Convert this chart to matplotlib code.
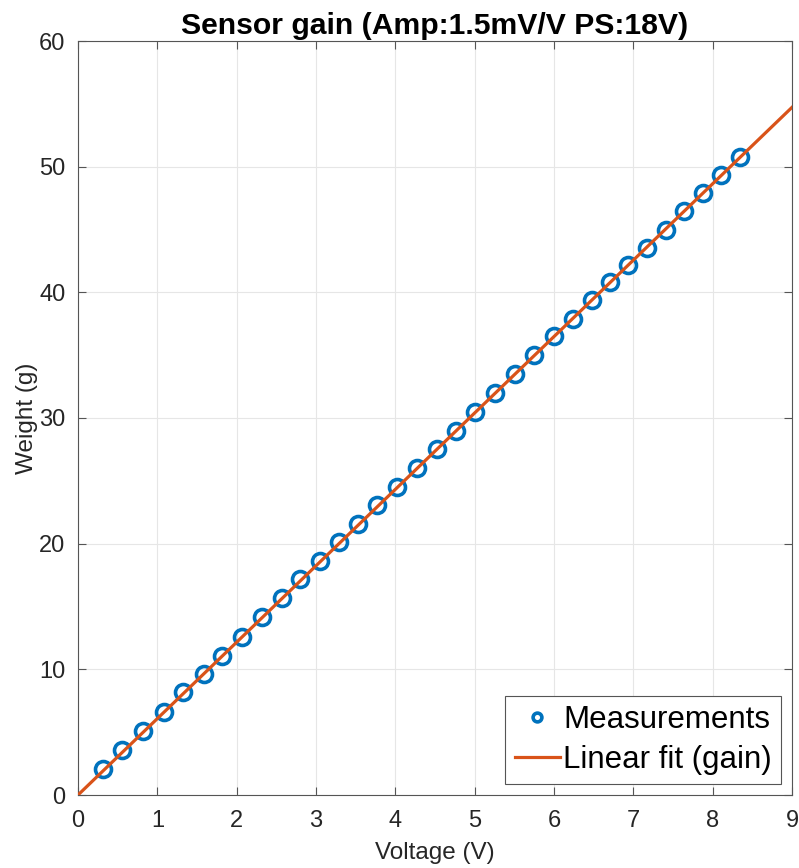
import matplotlib
matplotlib.use("Agg")
import matplotlib.pyplot as plt
import numpy as np

voltage = [0.315, 0.555, 0.82, 1.08, 1.32, 1.59, 1.82, 2.07, 2.32, 2.57, 2.80, 3.05,
           3.29, 3.53, 3.77, 4.02, 4.27, 4.53, 4.76, 5.00, 5.26, 5.51, 5.75, 6.00,
           6.24, 6.48, 6.71, 6.93, 7.17, 7.41, 7.64, 7.88, 8.11, 8.35]
weight = [2.07, 3.58, 5.09, 6.6, 8.19, 9.63, 11.1, 12.6, 14.2, 15.7, 17.2, 18.6,
          20.1, 21.6, 23.1, 24.5, 26.0, 27.5, 29.0, 30.5, 32.0, 33.5, 35.0, 36.5,
          37.9, 39.4, 40.8, 42.2, 43.5, 45.0, 46.5, 47.9, 49.3, 50.8]
gain = 6.08
fit_x = [0, 9]
fit_y = [gain * v for v in fit_x]

plt.rcParams['font.family'] = ['Liberation Sans', 'DejaVu Sans']
fig = plt.figure(figsize=(7.99, 8.68), dpi=100)
ax = fig.add_axes([78/799, 73/868, (792-78)/799, (795-41)/868])

ax.plot(voltage, weight, linestyle='none', marker='o', markersize=11.5,
        markerfacecolor='none', markeredgecolor='#0072BD', markeredgewidth=2.6,
        label='Measurements', zorder=3)
ax.plot(fit_x, fit_y, color='#D95319', linewidth=2.3, label='Linear fit (gain)', zorder=4)

ax.set_xlim(0, 9)
ax.set_ylim(0, 60)
ax.set_xticks(range(0, 10))
ax.set_yticks(range(0, 61, 10))
ax.grid(True, color='#E6E6E6', linewidth=0.8)
ax.set_axisbelow(True)
ax.tick_params(direction='in', top=True, right=True, length=6, width=0.8,
               colors='#555555', labelcolor='#262626', labelsize=17)
ax.tick_params(axis='x', pad=11)
ax.tick_params(axis='y', pad=9)
for s in ax.spines.values():
    s.set_color('#555555')
    s.set_linewidth(0.8)

ax.set_xlabel('Voltage (V)', fontsize=17.5, color='#262626', labelpad=7)
ax.set_ylabel('Weight (g)', fontsize=17.5, color='#262626', labelpad=1)
ax.set_title('Sensor gain (Amp:1.5mV/V PS:18V)', fontsize=21.7, fontweight='bold', pad=5)

leg = ax.legend(loc='lower right', fontsize=22.5, frameon=True, fancybox=False,
                edgecolor='#555555', framealpha=1, borderpad=0.3, labelspacing=0.3,
                handlelength=1.45, handletextpad=0.1, borderaxespad=0.35, markerscale=0.55)
leg.get_frame().set_linewidth(0.8)

fig.savefig('out.png', dpi=100)
